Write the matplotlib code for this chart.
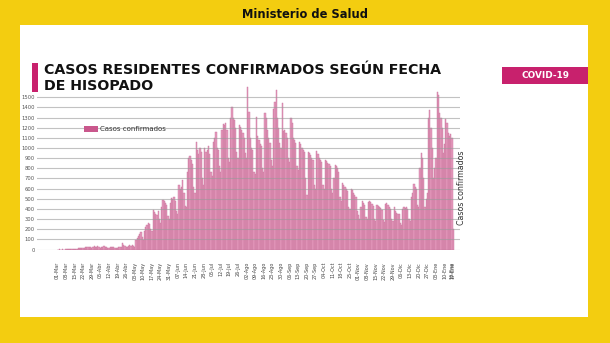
import matplotlib
matplotlib.use("Agg")
import matplotlib.pyplot as plt
from matplotlib.patches import Rectangle

# Daily confirmed cases by swab date, 01-Mar-2020 .. 17-Ene-2021
marzo = [0, 0, 1, 0, 1, 0, 0, 1, 1, 2, 3, 2, 4, 3, 5, 7, 9, 10, 12, 15,
         14, 13, 18, 22, 25, 24, 23, 20, 18, 27, 30]
abril = [28, 26, 30, 22, 18, 25, 28, 32, 27, 24, 18, 15, 22, 26, 24, 21, 18, 14, 12, 20,
         24, 28, 60, 45, 32, 25, 22, 35, 40, 38]
mayo = [42, 30, 28, 95, 110, 130, 150, 170, 120, 90, 180, 220, 240, 260, 250, 200, 180, 390, 370, 350,
        340, 380, 300, 260, 420, 490, 480, 460, 440, 330, 300]
junio = [460, 510, 500, 520, 480, 380, 350, 640, 600, 620, 680, 560, 430, 420, 760, 900, 920, 880, 840, 620,
         560, 1060, 980, 940, 1000, 960, 700, 640, 1000, 960]
julio = [980, 1020, 940, 760, 720, 1060, 1100, 1160, 1000, 980, 820, 760, 1180, 1240, 1230, 1245, 1180, 900,
         860, 1300, 1405, 1300, 1280, 1200, 960, 900, 1225, 1210, 1180, 1150, 1100]
agosto = [950, 900, 1600, 1350, 1100, 1000, 980, 760, 740, 1310, 1120, 1080, 1040, 1020, 800, 760, 1340, 1300,
          1180, 1100, 1050, 880, 820, 1380, 1450, 1570, 1300, 1200, 1050, 1000, 1440]
septiembre = [1170, 1180, 1150, 1100, 900, 860, 1300, 1250, 1100, 1080, 1050, 820, 780, 1055, 1040, 1000, 980,
              960, 700, 540, 965, 950, 930, 900, 880, 640, 600, 970, 940, 900]
octubre = [880, 860, 640, 600, 880, 870, 850, 840, 820, 600, 560, 700, 830, 820, 800, 760, 520, 480, 660, 640,
           620, 600, 580, 420, 400, 600, 590, 560, 540, 520, 380]
noviembre = [340, 300, 420, 475, 460, 440, 320, 300, 470, 475, 470, 450, 430, 300, 280, 440, 430, 420, 410, 390,
             290, 270, 450, 460, 440, 420, 400, 300, 280, 420]
diciembre = [380, 360, 345, 350, 260, 240, 400, 420, 410, 420, 400, 300, 280, 520, 560, 650, 620, 600, 440, 420,
             800, 950, 900, 700, 420, 500, 560, 1300, 1370, 1200, 1000]
enero = [700, 800, 900, 1550, 1520, 1340, 1300, 1200, 950, 1040, 1290, 1250, 1150, 1120, 1140, 1100, 200]

casos = marzo + abril + mayo + junio + julio + agosto + septiembre + octubre + noviembre + diciembre + enero
dias = list(range(len(casos)))

etiquetas_fecha = [
    "01-Mar", "08-Mar", "15-Mar", "22-Mar", "29-Mar",
    "05-Abr", "12-Abr", "19-Abr", "26-Abr",
    "03-May", "10-May", "17-May", "24-May", "31-May",
    "07-Jun", "14-Jun", "21-Jun", "28-Jun",
    "05-Jul", "12-Jul", "19-Jul", "26-Jul",
    "02-Ago", "09-Ago", "16-Ago", "23-Ago", "30-Ago",
    "06-Sep", "13-Sep", "20-Sep", "27-Sep",
    "04-Oct", "11-Oct", "18-Oct", "25-Oct",
    "01-Nov", "08-Nov", "15-Nov", "22-Nov", "29-Nov",
    "06-Dic", "13-Dic", "20-Dic", "27-Dic",
    "03-Ene", "10-Ene", "16-Ene", "17-Ene",
]
posiciones_fecha = list(range(0, 316, 7)) + [321, 322]
valores_y = list(range(0, 1501, 100))

W, H = 610, 343
YELLOW = "#f3cd10"
MAGENTA = "#c8216d"

fig = plt.figure(figsize=(W / 100, H / 100), dpi=100)
fig.patch.set_facecolor(YELLOW)


def fx(x):
    return x / W


def fy(y):
    return 1 - y / H


# white slide panel
fig.add_artist(Rectangle((fx(20), fy(317)), fx(588) - fx(20), fy(25) - fy(317),
                         transform=fig.transFigure, facecolor="white", edgecolor="none", zorder=0))

fig.text(fx(305), fy(14), "Ministerio de Salud", ha="center", va="center",
         fontsize=8.3, fontweight="bold", color="#111111")

# title block
fig.add_artist(Rectangle((fx(32), fy(92)), fx(37.5) - fx(32), fy(63) - fy(92),
                         transform=fig.transFigure, facecolor=MAGENTA, edgecolor="none"))
fig.text(fx(44), fy(70.5), "CASOS RESIDENTES CONFIRMADOS SEGÚN FECHA", ha="left", va="center",
         fontsize=10.2, fontweight="bold", color="#111111")
fig.text(fx(44), fy(86), "DE HISOPADO", ha="left", va="center",
         fontsize=10.2, fontweight="bold", color="#111111")

# COVID-19 tag
fig.add_artist(Rectangle((fx(502), fy(84)), fx(588) - fx(502), fy(67) - fy(84),
                         transform=fig.transFigure, facecolor=MAGENTA, edgecolor="none"))
fig.text(fx(545), fy(75.5), "COVID-19", ha="center", va="center",
         fontsize=6.4, fontweight="bold", color="white")

# chart
ax = fig.add_axes([fx(37), fy(249.5), fx(460) - fx(37), fy(82) - fy(249.5)])
ax.set_facecolor("none")
ax.bar(dias, casos, width=1.0, color="#e69bbe", edgecolor="#c8739b", linewidth=0.3, zorder=2)
for v in valores_y:
    ax.axhline(v, color="#9a9a9a", lw=0.8, alpha=0.6, zorder=3)
ax.set_xlim(-16.5, 327.5)
ax.set_ylim(0, 1650)
for s in ax.spines.values():
    s.set_visible(False)
ax.set_yticks(valores_y)
ax.set_yticklabels([str(v) for v in valores_y], fontsize=3.8, color="#555555")
ax.tick_params(axis="y", length=0, pad=1.5)
ax.set_xticks(posiciones_fecha)
ax.set_xticklabels(etiquetas_fecha, rotation=90, fontsize=3.5, color="#444444")
ax.tick_params(axis="x", length=0, pad=9)

# legend
fig.add_artist(Rectangle((fx(84.3), fy(131.7)), fx(98.3) - fx(84.3), fy(125.7) - fy(131.7),
                         transform=fig.transFigure, facecolor="#c9578c", edgecolor="none"))
fig.text(fx(99.5), fy(128.7), "Casos confirmados", ha="left", va="center",
         fontsize=5.0, color="#333333")

# right-side axis title
fig.text(fx(461.5), fy(188), "Casos confirmados", ha="center", va="center", rotation=90,
         fontsize=5.7, color="#333333")

fig.savefig("out.png", dpi=100, facecolor=fig.get_facecolor())
